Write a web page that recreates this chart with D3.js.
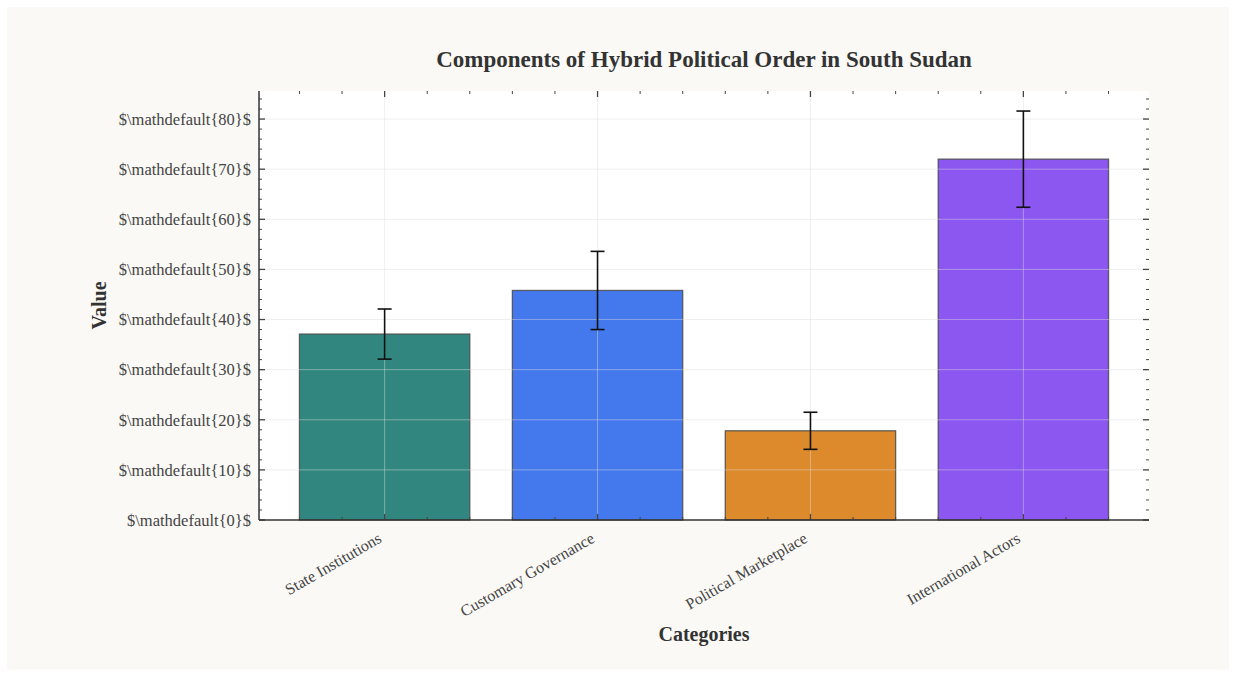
<!DOCTYPE html>
<html>
<head>
<meta charset="utf-8">
<script src="https://cdn.jsdelivr.net/npm/d3@7"></script>
<style>
  body { margin: 0; background: #ffffff; }
  text { font-family: "Liberation Serif", "DejaVu Serif", serif; }
</style>
</head>
<body>
<div id="chart"></div>
<script>

var width = 1236,
    height = 677;

// data
var categories = ["State Institutions", "Customary Governance", "Political Marketplace", "International Actors"];
var values = [37.1, 45.8, 17.8, 72.0];
var errors = [5.0, 7.8, 3.7, 9.6];
var colors = ["#31877f", "#4479ee", "#dc8a2c", "#8b57f0"];
var yTicks = [0, 10, 20, 30, 40, 50, 60, 70, 80];

var margin = {left: 259, right: 1149, top: 91, bottom: 520};

var svg = d3.select("#chart").append("svg")
    .attr("width", width)
    .attr("height", height);

// figure background
svg.append("rect")
    .attr("x", 7).attr("y", 7)
    .attr("width", 1222).attr("height", 663)
    .attr("fill", "#faf9f6");

// axes background
svg.append("rect")
    .attr("x", margin.left).attr("y", margin.top)
    .attr("width", margin.right - margin.left)
    .attr("height", margin.bottom - margin.top)
    .attr("fill", "#ffffff");

// x is a linear scale on category index, like matplotlib
var x = d3.scaleLinear()
    .domain([-0.59, categories.length - 1 + 0.59])
    .range([margin.left, margin.right]);

var y = d3.scaleLinear()
    .domain([0, 85.6])
    .range([margin.bottom, margin.top]);

var barW = 0.8;

// bars
svg.selectAll(".bar")
    .data(values)
  .enter().append("rect")
    .attr("class", "bar")
    .attr("x", function(d, i) { return x(i - barW / 2); })
    .attr("y", function(d) { return y(d); })
    .attr("width", function() { return x(barW) - x(0); })
    .attr("height", function(d) { return y(0) - y(d); })
    .attr("fill", function(d, i) { return colors[i]; })
    .attr("stroke", "#4a4a4a")
    .attr("stroke-opacity", 0.85)
    .attr("stroke-width", 1.3);

// grid (drawn above bars, light)
var grid = svg.append("g").attr("stroke", "#dcdcdc").attr("stroke-opacity", 0.45).attr("stroke-width", 1);
grid.selectAll(".hgrid")
    .data(yTicks.slice(1))
  .enter().append("line")
    .attr("x1", margin.left).attr("x2", margin.right)
    .attr("y1", function(d) { return y(d); })
    .attr("y2", function(d) { return y(d); });
grid.selectAll(".vgrid")
    .data(categories)
  .enter().append("line")
    .attr("x1", function(d, i) { return x(i); })
    .attr("x2", function(d, i) { return x(i); })
    .attr("y1", margin.top).attr("y2", margin.bottom);

// error bars
var eb = svg.append("g").attr("stroke", "#111").attr("stroke-width", 1.6);
values.forEach(function(v, i) {
  var cx = x(i);
  eb.append("line").attr("x1", cx).attr("x2", cx).attr("y1", y(v - errors[i])).attr("y2", y(v + errors[i]));
  eb.append("line").attr("x1", cx - 7).attr("x2", cx + 7).attr("y1", y(v - errors[i])).attr("y2", y(v - errors[i]));
  eb.append("line").attr("x1", cx - 7).attr("x2", cx + 7).attr("y1", y(v + errors[i])).attr("y2", y(v + errors[i]));
});

// inward ticks on all four sides
var tickColor = "#444";
var ticks = svg.append("g").attr("stroke", tickColor);
var yMinor = d3.range(0, 86, 2).filter(function(d) { return d % 10 !== 0; });
var xMinor = [];
categories.forEach(function(c, i) { xMinor.push(i - 0.4, i - 0.2, i + 0.2, i + 0.4); });

[[margin.left, 1], [margin.right, -1]].forEach(function(s) {
  ticks.selectAll(null).data(yTicks).enter().append("line")
    .attr("stroke-width", 1.3)
    .attr("x1", s[0]).attr("x2", s[0] + s[1] * 6)
    .attr("y1", function(d) { return y(d); }).attr("y2", function(d) { return y(d); });
  ticks.selectAll(null).data(yMinor).enter().append("line")
    .attr("stroke-width", 1)
    .attr("x1", s[0]).attr("x2", s[0] + s[1] * 3)
    .attr("y1", function(d) { return y(d); }).attr("y2", function(d) { return y(d); });
});
[[margin.bottom, -1], [margin.top, 1]].forEach(function(s) {
  ticks.selectAll(null).data(categories).enter().append("line")
    .attr("stroke-width", 1.3)
    .attr("y1", s[0]).attr("y2", s[0] + s[1] * 6)
    .attr("x1", function(d, i) { return x(i); }).attr("x2", function(d, i) { return x(i); });
  ticks.selectAll(null).data(xMinor).enter().append("line")
    .attr("stroke-width", 1)
    .attr("y1", s[0]).attr("y2", s[0] + s[1] * 3)
    .attr("x1", function(d) { return x(d); }).attr("x2", function(d) { return x(d); });
});

// spines: left and bottom only
svg.append("line")
    .attr("x1", margin.left).attr("x2", margin.left)
    .attr("y1", margin.top).attr("y2", margin.bottom)
    .attr("stroke", "#333").attr("stroke-width", 1.5);
svg.append("line")
    .attr("x1", margin.left).attr("x2", margin.right)
    .attr("y1", margin.bottom).attr("y2", margin.bottom)
    .attr("stroke", "#333").attr("stroke-width", 1.5);

// y tick labels
svg.selectAll(".ylab")
    .data(yTicks)
  .enter().append("text")
    .attr("x", margin.left - 8)
    .attr("y", function(d) { return y(d); })
    .attr("dy", "0.35em")
    .attr("text-anchor", "end")
    .attr("font-size", 16.5)
    .attr("fill", "#444")
    .text(function(d) { return "$\\mathdefault{" + d + "}$"; });

// x tick labels, rotated 30 degrees
svg.selectAll(".xlab")
    .data(categories)
  .enter().append("text")
    .attr("text-anchor", "end")
    .attr("font-size", 16)
    .attr("fill", "#444")
    .attr("transform", function(d, i) { return "translate(" + (x(i) - 8) + "," + (margin.bottom + 11) + ") rotate(-30)"; })
    .attr("dy", "0.75em")
    .text(function(d) { return d; });

// title and axis labels
svg.append("text")
    .attr("x", (margin.left + margin.right) / 2)
    .attr("y", 67)
    .attr("text-anchor", "middle")
    .attr("font-size", 23)
    .attr("font-weight", "bold")
    .attr("fill", "#333")
    .text("Components of Hybrid Political Order in South Sudan");

svg.append("text")
    .attr("x", (margin.left + margin.right) / 2)
    .attr("y", 641)
    .attr("text-anchor", "middle")
    .attr("font-size", 20)
    .attr("font-weight", "bold")
    .attr("fill", "#333")
    .text("Categories");

svg.append("text")
    .attr("transform", "translate(106," + ((margin.top + margin.bottom) / 2) + ") rotate(-90)")
    .attr("text-anchor", "middle")
    .attr("font-size", 20)
    .attr("font-weight", "bold")
    .attr("fill", "#333")
    .text("Value");

</script>
</body>
</html>
